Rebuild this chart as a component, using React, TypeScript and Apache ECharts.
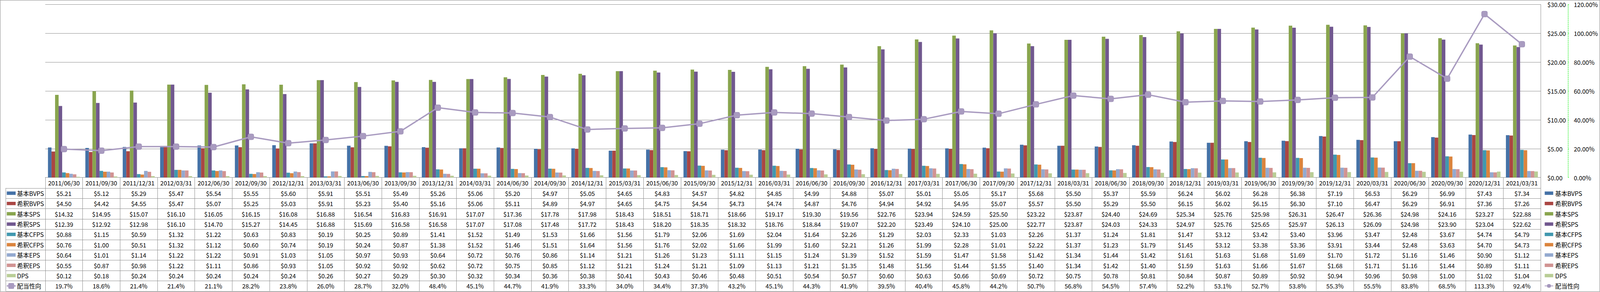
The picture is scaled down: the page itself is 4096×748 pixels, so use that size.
import React, { useEffect, useRef } from "react";
import * as echarts from "echarts";

const dates = [
  "2011/06/30", "2011/09/30", "2011/12/31", "2012/03/31", "2012/06/30", "2012/09/30", "2012/12/31", "2013/03/31",
  "2013/06/30", "2013/09/30", "2013/12/31", "2014/03/31", "2014/06/30", "2014/09/30", "2014/12/31", "2015/03/31",
  "2015/06/30", "2015/09/30", "2015/12/31", "2016/03/31", "2016/06/30", "2016/09/30", "2016/12/31", "2017/03/31",
  "2017/06/30", "2017/09/30", "2017/12/31", "2018/03/31", "2018/06/30", "2018/09/30", "2018/12/31", "2019/03/31",
  "2019/06/30", "2019/09/30", "2019/12/31", "2020/03/31", "2020/06/30", "2020/09/30", "2020/12/31", "2021/03/31",
];

const basicBVPS = [5.21, 5.12, 5.29, 5.47, 5.54, 5.55, 5.60, 5.91, 5.51, 5.49, 5.26, 5.06, 5.20, 4.97, 5.05, 4.65, 4.83, 4.57, 4.82, 4.85, 4.99, 4.88, 5.07, 5.01, 5.05, 5.17, 5.68, 5.50, 5.37, 5.59, 6.24, 6.02, 6.28, 6.38, 7.19, 6.53, 6.29, 6.99, 7.43, 7.34];
const dilutedBVPS = [4.50, 4.42, 4.55, 5.47, 5.07, 5.25, 5.03, 5.91, 5.23, 5.40, 5.16, 5.06, 5.11, 4.89, 4.97, 4.65, 4.75, 4.54, 4.73, 4.74, 4.87, 4.76, 4.94, 4.92, 4.95, 5.07, 5.57, 5.50, 5.29, 5.50, 6.15, 6.02, 6.15, 6.30, 7.10, 6.47, 6.29, 6.91, 7.36, 7.26];
const basicSPS = [14.32, 14.95, 15.07, 16.10, 16.05, 16.15, 16.08, 16.88, 16.54, 16.83, 16.91, 17.07, 17.36, 17.78, 17.98, 18.43, 18.51, 18.71, 18.66, 19.17, 19.30, 19.56, 22.76, 23.94, 24.59, 25.50, 23.22, 23.87, 24.40, 24.69, 25.34, 25.76, 25.98, 26.31, 26.47, 26.36, 24.98, 24.16, 23.27, 22.88];
const dilutedSPS = [12.39, 12.92, 12.98, 16.10, 14.70, 15.27, 14.45, 16.88, 15.69, 16.58, 16.58, 17.07, 17.08, 17.48, 17.72, 18.43, 18.20, 18.35, 18.32, 18.76, 18.84, 19.07, 22.20, 23.49, 24.10, 25.00, 22.77, 23.87, 24.03, 24.33, 24.97, 25.76, 25.65, 25.97, 26.13, 26.09, 24.98, 23.90, 23.04, 22.62];
const basicCFPS = [0.88, 1.15, 0.59, 1.32, 1.22, 0.63, 0.83, 0.19, 0.25, 0.89, 1.41, 1.52, 1.49, 1.53, 1.66, 1.56, 1.79, 2.06, 1.69, 2.04, 1.64, 2.26, 1.29, 2.03, 2.33, 1.03, 2.26, 1.37, 1.24, 1.81, 1.47, 3.12, 3.42, 3.40, 3.96, 3.47, 2.48, 3.67, 4.74, 4.79];
const dilutedCFPS = [0.76, 1.00, 0.51, 1.32, 1.12, 0.60, 0.74, 0.19, 0.24, 0.87, 1.38, 1.52, 1.46, 1.51, 1.64, 1.56, 1.76, 2.02, 1.66, 1.99, 1.60, 2.21, 1.26, 1.99, 2.28, 1.01, 2.22, 1.37, 1.23, 1.79, 1.45, 3.12, 3.38, 3.36, 3.91, 3.44, 2.48, 3.63, 4.70, 4.73];
const basicEPS = [0.64, 1.01, 1.14, 1.22, 1.22, 0.91, 1.03, 1.05, 0.97, 0.93, 0.64, 0.72, 0.76, 0.86, 1.14, 1.21, 1.26, 1.23, 1.11, 1.15, 1.24, 1.39, 1.52, 1.59, 1.47, 1.58, 1.42, 1.34, 1.44, 1.42, 1.61, 1.63, 1.68, 1.69, 1.70, 1.72, 1.16, 1.46, 0.90, 1.12];
const dilutedEPS = [0.55, 0.87, 0.98, 1.22, 1.11, 0.86, 0.93, 1.05, 0.92, 0.92, 0.62, 0.72, 0.75, 0.85, 1.12, 1.21, 1.24, 1.21, 1.09, 1.13, 1.21, 1.35, 1.48, 1.56, 1.44, 1.55, 1.40, 1.34, 1.42, 1.40, 1.59, 1.63, 1.66, 1.67, 1.68, 1.71, 1.16, 1.44, 0.89, 1.11];
const dps = [0.12, 0.18, 0.24, 0.24, 0.24, 0.24, 0.24, 0.26, 0.27, 0.29, 0.30, 0.32, 0.34, 0.36, 0.38, 0.41, 0.43, 0.46, 0.48, 0.51, 0.54, 0.57, 0.60, 0.63, 0.66, 0.69, 0.72, 0.75, 0.78, 0.81, 0.84, 0.87, 0.89, 0.92, 0.94, 0.96, 0.98, 1.00, 1.02, 1.04];
const payoutRatio = [19.7, 18.6, 21.4, 21.4, 21.1, 28.2, 23.8, 26.0, 28.7, 32.0, 48.4, 45.1, 44.7, 41.9, 33.3, 34.0, 34.4, 37.3, 43.2, 45.1, 44.3, 41.9, 39.5, 40.4, 45.8, 44.2, 50.7, 56.8, 54.5, 57.4, 52.2, 53.1, 52.7, 53.8, 55.3, 55.5, 83.8, 68.5, 113.3, 92.4];

const barNames = ["基本BVPS", "希釈BVPS", "基本SPS", "希釈SPS", "基本CFPS", "希釈CFPS", "基本EPS", "希釈EPS", "DPS"];
const barData = [basicBVPS, dilutedBVPS, basicSPS, dilutedSPS, basicCFPS, dilutedCFPS, basicEPS, dilutedEPS, dps];
const barColors = ["#4572A7", "#AA4643", "#89A54E", "#71588F", "#4198AF", "#DB843D", "#93A9CF", "#D19392", "#B9CD96"];
const lineName = "配当性向";
const lineColor = "#A99BC0";

const dollarTicks = { min: 0, max: 30, interval: 5 };
const percentTicks = { min: 0, max: 120, interval: 20 };

// layout (reference px * S)
const S = 0.871;
const W = 4096;
const H = 748;
const plotLeft = 133 * S;
const plotRight = 4528 * S;
const plotTop = 13 * S;
const plotBottom = 522 * S;
const headerBottom = 553 * S;
const rowH = 30.3 * S;
const tableLeft = 17 * S;
const FONT = '"Noto Sans CJK JP", "Noto Sans", sans-serif';
const FS = 15.5;
const GRID_COLOR = "#8c8c8c";

export default function App() {
  const ref = useRef<HTMLDivElement>(null);

  useEffect(() => {
    if (!ref.current) return;
    const chart = echarts.init(ref.current, null, { renderer: "svg" });

    const series: any[] = barNames.map((name, i) => ({
      name,
      type: "bar",
      yAxisIndex: 0,
      data: barData[i],
      barGap: "0%",
      barCategoryGap: "14.5%",
      itemStyle: { color: barColors[i] },
    }));
    series.push({
      name: lineName,
      type: "line",
      yAxisIndex: 1,
      data: payoutRatio,
      symbol: "roundRect",
      symbolSize: 15,
      lineStyle: { color: lineColor, width: 3.5 },
      itemStyle: { color: lineColor, borderColor: "#9D8FB6", borderWidth: 1 },
      z: 10,
    });

    const allNames = [...barNames, lineName];
    const legendItemH = 16;

    chart.setOption({
      animation: false,
      backgroundColor: "#ffffff",
      textStyle: { fontFamily: FONT },
      grid: {
        left: plotLeft,
        top: plotTop,
        width: plotRight - plotLeft,
        height: plotBottom - plotTop,
        containLabel: false,
      },
      legend: {
        orient: "vertical",
        left: 4539 * S,
        top: headerBottom + rowH / 2 - legendItemH / 2,
        height: 300,
        padding: 0,
        itemWidth: 25 * S,
        itemHeight: 10 * S,
        itemGap: rowH - legendItemH,
        textStyle: { fontSize: FS, fontFamily: FONT, color: "#000", lineHeight: legendItemH },
        data: allNames.map((n, i) => (i < barNames.length ? { name: n, icon: "rect" } : { name: n })),
      },
      xAxis: {
        type: "category",
        data: dates,
        boundaryGap: true,
        axisLine: { show: true, lineStyle: { color: GRID_COLOR, width: 1 } },
        axisTick: {
          show: true,
          interval: 0,
          alignWithLabel: false,
          length: 856 * S - plotBottom,
          lineStyle: { color: GRID_COLOR, width: 1 },
        },
        axisLabel: { interval: 0, margin: 6, fontSize: FS, fontFamily: FONT, color: "#000" },
        splitLine: { show: false },
      },
      yAxis: [
        {
          type: "value",
          position: "right",
          ...dollarTicks,
          axisLine: { show: true, lineStyle: { color: GRID_COLOR, width: 1 } },
          axisTick: { show: false },
          axisLabel: {
            margin: 20 * S,
            fontSize: FS,
            fontFamily: FONT,
            color: "#000",
            formatter: (v: number) => "$" + v.toFixed(2),
          },
          splitLine: { show: true, lineStyle: { color: GRID_COLOR, width: 1 } },
        },
        {
          type: "value",
          position: "right",
          offset: (4609 - 4528) * S,
          ...percentTicks,
          axisLine: { show: true, lineStyle: { color: "#00EE00", width: 1, type: [3, 2] } },
          axisTick: { show: true, length: 2, lineStyle: { color: "#00EE00", width: 1 } },
          axisLabel: {
            margin: 19 * S - 2,
            fontSize: FS,
            fontFamily: FONT,
            color: "#000",
            formatter: (v: number) => v.toFixed(2) + "%",
          },
          splitLine: { show: false },
        },
      ],
      series,
    });

    const xs = dates.map((d, i) => chart.convertToPixel({ xAxisIndex: 0 }, i) as number);

    const graphics: any[] = [];
    // outer border
    graphics.push({
      type: "rect",
      silent: true,
      shape: { x: 0.5, y: 0.5, width: W - 1, height: H - 1.5 },
      style: { fill: "none", stroke: "#868686", lineWidth: 1 },
    });
    // table horizontal lines
    for (let k = 0; k <= allNames.length; k++) {
      const y = Math.round(headerBottom + k * rowH) + 0.5;
      graphics.push({
        type: "line",
        silent: true,
        shape: { x1: tableLeft, y1: y, x2: plotRight, y2: y },
        style: { stroke: GRID_COLOR, lineWidth: 1 },
      });
    }
    // left table border
    graphics.push({
      type: "line",
      silent: true,
      shape: { x1: tableLeft, y1: headerBottom, x2: tableLeft, y2: headerBottom + allNames.length * rowH },
      style: { stroke: GRID_COLOR, lineWidth: 1 },
    });

    const rowsData = [...barData, payoutRatio];
    allNames.forEach((name, r) => {
      const cy = headerBottom + (r + 0.5) * rowH;
      if (r < barNames.length) {
        graphics.push({
          type: "rect",
          silent: true,
          shape: { x: 20 * S, y: cy - 5 * S, width: 26 * S, height: 10 * S },
          style: { fill: barColors[r] },
        });
      } else {
        graphics.push({
          type: "line",
          silent: true,
          shape: { x1: 20 * S, y1: cy, x2: 46 * S, y2: cy },
          style: { stroke: lineColor, lineWidth: 3.5 },
        });
        graphics.push({
          type: "rect",
          silent: true,
          shape: { x: 33 * S - 7.5, y: cy - 7.5, width: 15, height: 15, r: 3 },
          style: { fill: lineColor },
        });
      }
      graphics.push({
        type: "text",
        silent: true,
        style: {
          text: name,
          x: 50 * S,
          y: cy,
          align: "left",
          verticalAlign: "middle",
          fontSize: FS,
          fontFamily: FONT,
          fill: "#000",
        },
      });
      rowsData[r].forEach((v, i) => {
        const txt = r < barNames.length ? "$" + v.toFixed(2) : v.toFixed(1) + "%";
        graphics.push({
          type: "text",
          silent: true,
          style: {
            text: txt,
            x: xs[i],
            y: cy,
            align: "center",
            verticalAlign: "middle",
            fontSize: FS,
            fontFamily: FONT,
            fill: "#000",
          },
        });
      });
    });

    chart.setOption({ graphic: graphics });

    return () => chart.dispose();
  }, []);

  return (
    <div
      ref={ref}
      style={{ position: "fixed", left: 0, top: 0, width: W, height: H, background: "#fff" }}
    />
  );
}
